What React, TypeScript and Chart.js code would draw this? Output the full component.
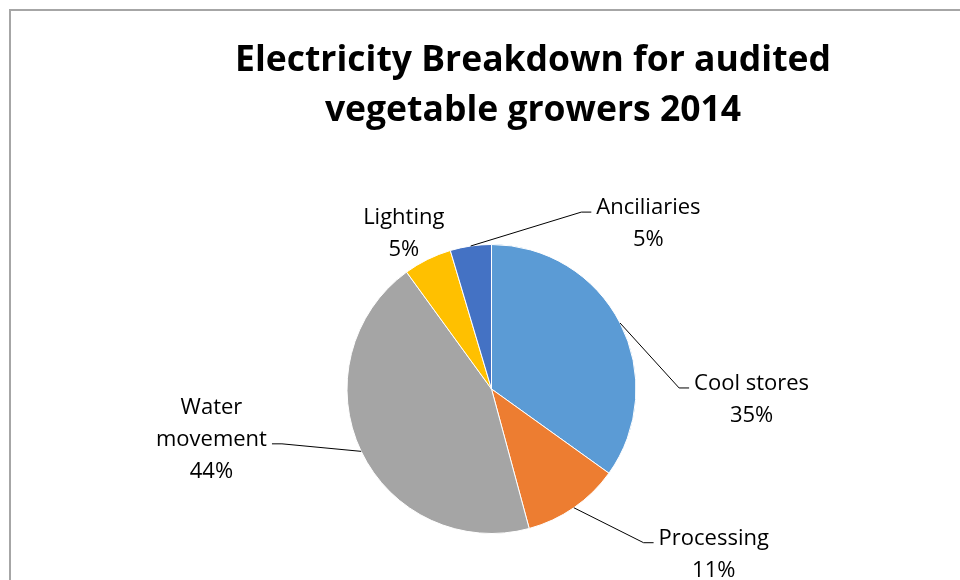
import React, { useEffect, useRef } from "react";
import { Chart, registerables } from "chart.js";

Chart.register(...registerables);

// ---- data ----
const categories: string[] = ["Cool stores", "Processing", "Water movement", "Lighting", "Anciliaries"];
const values: number[] = [34.9, 10.9, 44.2, 5.4, 4.6];
const titleLines: string[] = ["Electricity Breakdown for audited", "vegetable growers 2014"];
// label text lines (category broken as in the original)
const labelNameLines: string[][] = [["Cool stores"], ["Processing"], ["Water", "movement"], ["Lighting"], ["Anciliaries"]];

// ---- styles ----
const colors: string[] = ["#5B9BD5", "#ED7D31", "#A5A5A5", "#FFC000", "#4472C4"];
// label box centre offsets in units of the pie radius
const labelOffsetX: number[] = [1.8, 1.538, -1.938, -0.607, 1.086];
const labelOffsetY: number[] = [0.062, 1.133, 0.338, -1.09, -1.155];
const showLeader: boolean[] = [true, true, true, false, true];

const TITLE_FONT = "bold 35.5px 'Open Sans'";
const LABEL_FONT = "22px 'Open Sans'";
const LINE_H = 32;

const overlayPlugin = {
  id: "overlay",
  beforeDraw(chart: any) {
    const ctx = chart.ctx;
    ctx.save();
    ctx.fillStyle = "#ffffff";
    ctx.fillRect(0, 0, chart.width, chart.height);
    ctx.fillStyle = "#A6A6A6";
    ctx.fillRect(9, 9, chart.width, 2);
    ctx.fillRect(9, 9, 2, chart.height);
    ctx.restore();
  },
  afterDraw(chart: any) {
    const ctx = chart.ctx;
    ctx.save();
    // title
    ctx.fillStyle = "#000000";
    ctx.font = TITLE_FONT;
    ctx.textAlign = "center";
    ctx.textBaseline = "alphabetic";
    const tx = 533;
    titleLines.forEach((t, i) => ctx.fillText(t, tx, 71 + i * 50));

    // labels
    const meta = chart.getDatasetMeta(0);
    const data = chart.data.datasets[0].data as number[];
    const total = data.reduce((a, b) => a + b, 0);
    ctx.font = LABEL_FONT;
    ctx.textBaseline = "middle";
    meta.data.forEach((arc: any, i: number) => {
      const { x, y, outerRadius, startAngle, endAngle } = arc.getProps(
        ["x", "y", "outerRadius", "startAngle", "endAngle"],
        true
      );
      const R = outerRadius;
      const pct = Math.round((data[i] / total) * 100) + "%";
      const lines = [...labelNameLines[i], pct];
      const cx = x + labelOffsetX[i] * R;
      const cy = y + labelOffsetY[i] * R;
      const top = cy - ((lines.length - 1) * LINE_H) / 2;
      let maxW = 0;
      lines.forEach((l) => (maxW = Math.max(maxW, ctx.measureText(l).width)));
      ctx.fillStyle = "#000000";
      ctx.textAlign = "center";
      lines.forEach((l, k) => ctx.fillText(l, cx, top + k * LINE_H + 2));

      if (showLeader[i]) {
        const mid = (startAngle + endAngle) / 2;
        const ex = x + Math.cos(mid) * R;
        const ey = y + Math.sin(mid) * R;
        const attachIdx = Math.floor((lines.length - 1) / 2);
        const ay = top + attachIdx * LINE_H + 6;
        const right = cx > x;
        const sideX = right ? cx - maxW / 2 - 5 : cx + maxW / 2 + 5;
        const elbowX = right ? sideX - 10 : sideX + 10;
        ctx.strokeStyle = "#000000";
        ctx.lineWidth = 1;
        ctx.beginPath();
        ctx.moveTo(ex, ey);
        ctx.lineTo(elbowX, ay);
        ctx.lineTo(sideX, ay);
        ctx.stroke();
      }
    });
    ctx.restore();
  },
};

export default function App() {
  const ref = useRef<HTMLCanvasElement | null>(null);
  useEffect(() => {
    document.body.style.margin = "0";
    if (!ref.current) return;
    const chart = new Chart(ref.current, {
      type: "pie",
      data: {
        labels: categories,
        datasets: [
          {
            data: values,
            backgroundColor: colors,
            borderColor: "#ffffff",
            borderWidth: 1,
          },
        ],
      },
      options: {
        animation: false,
        responsive: false,
        layout: { padding: { left: 346, right: 323, top: 244, bottom: 46 } },
        plugins: {
          legend: { display: false },
          title: { display: false },
          tooltip: { enabled: false },
        },
      },
      plugins: [overlayPlugin],
    });
    return () => chart.destroy();
  }, []);
  return (
    <div style={{ width: 960, height: 580 }}>
      <canvas ref={ref} width={960} height={580} style={{ display: "block" }} />
    </div>
  );
}
